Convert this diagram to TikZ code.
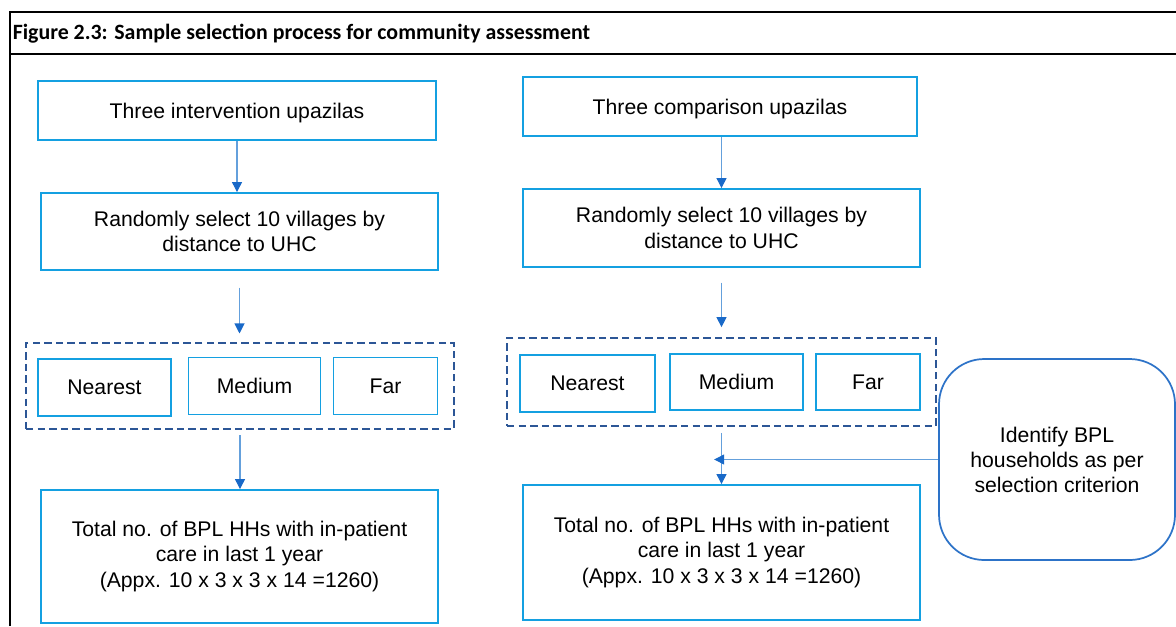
\documentclass[tikz,border=0pt]{standalone}
\usepackage{fontspec}
\setmainfont{Liberation Sans}
\newfontfamily\titlefont{Carlito}
\usetikzlibrary{arrows.meta}

\definecolor{boxblue}{RGB}{20,160,225}
\definecolor{groupblue}{RGB}{44,86,150}
\definecolor{linkblue}{RGB}{100,160,220}
\definecolor{headblue}{RGB}{25,105,200}
\definecolor{noteblue}{RGB}{45,115,200}

\tikzset{
  sz/.style 2 args={minimum width=#1*0.75pt, minimum height=#2*0.75pt},
  stage/.style={draw=boxblue, line width=1.4pt, inner sep=0pt, align=center,
    font=\fontsize{15.9}{19.1}\selectfont},
  group/.style={draw=groupblue, line width=1.3pt, dash pattern=on 5.5pt off 3.2pt, inner sep=0pt},
  note/.style={draw=noteblue, line width=1.3pt, rounded corners=34pt, inner sep=0pt, align=center,
    font=\fontsize{15.9}{18.8}\selectfont},
  link/.style={draw=linkblue, line width=0.8pt,
    -{Triangle[width=7.5pt,length=7.5pt,color=headblue]}},
  frame/.style={draw=black, line width=1.6pt},
}

\begin{document}
\begin{tikzpicture}[x=0.75pt, y=-0.75pt]
  \useasboundingbox (0,0) rectangle (1176,626);

  % outer figure frame and caption
  \draw[frame] (10,626) -- (10,12) -- (1176,12);
  \draw[frame] (10,54) -- (1176,54);
  \node[anchor=base west, inner sep=0pt, font=\titlefont\bfseries\fontsize{16.4}{19}\selectfont]
    (title) at (12.5,39) {Figure 2.3: Sample selection process for community assessment};

  % intervention arm
  \node[stage, sz={398}{59}, text depth=0pt] (a1) at (237,110.5) {Three intervention upazilas};
  \node[stage, sz={397}{77}] (a2) at (239.5,231.5) {Randomly select 10 villages by\\distance to UHC};
  \node[group, sz={428}{86}] (ag) at (240,386) {};
  \node[stage, sz={133}{57}] (an) at (104.5,387.5) {Nearest};
  \node[stage, sz={132}{57}] (am) at (254.5,386) {Medium};
  \node[stage, sz={104}{57}] (af) at (385.5,386) {Far};
  \node[stage, sz={397}{133}] (a4) at (239.5,556.5)
    {Total no. of BPL HHs with in-patient\\care in last 1 year\\(Appx. 10 x 3 x 3 x 14 =1260)};

  \draw[link] (a1.south) -- (a1.south |- a2.north);
  \draw[link, shorten <=12.5pt, shorten >=6.5pt] (a2.south) -- (a2.south |- ag.north);
  \draw[link, shorten <=4pt] (ag.south) -- (ag.south |- a4.north);

  % comparison arm
  \node[stage, sz={394}{59}, text depth=0pt] (b1) at (720,106.5) {Three comparison upazilas};
  \node[stage, sz={397}{78}] (b2) at (721.5,228) {Randomly select 10 villages by\\distance to UHC};
  \node[group, sz={429}{88}] (bg) at (721.5,382) {};
  \node[stage, sz={135}{57}] (bn) at (587.5,383.5) {Nearest};
  \node[stage, sz={133}{56}] (bm) at (736.5,382) {Medium};
  \node[stage, sz={104}{56}] (bf) at (868,382) {Far};
  \node[stage, sz={397}{135}] (b4) at (721.5,552.5)
    {Total no. of BPL HHs with in-patient\\care in last 1 year\\(Appx. 10 x 3 x 3 x 14 =1260)};
  \node[note, sz={236}{201}] (rb) at (1057,459.5)
    {Identify BPL\\households as per\\selection criterion};

  \draw[link] (b1.south -| b2.north) -- (b2.north);
  \draw[link, shorten <=11pt, shorten >=7.5pt] (b2.south) -- (b2.south |- bg.north);
  \draw[link, shorten <=4.5pt] (bg.south) -- (bg.south |- b4.north);
  \draw[link, shorten >=-5.5pt] (rb.west) -- (rb.west -| bg.south);
\end{tikzpicture}
\end{document}
